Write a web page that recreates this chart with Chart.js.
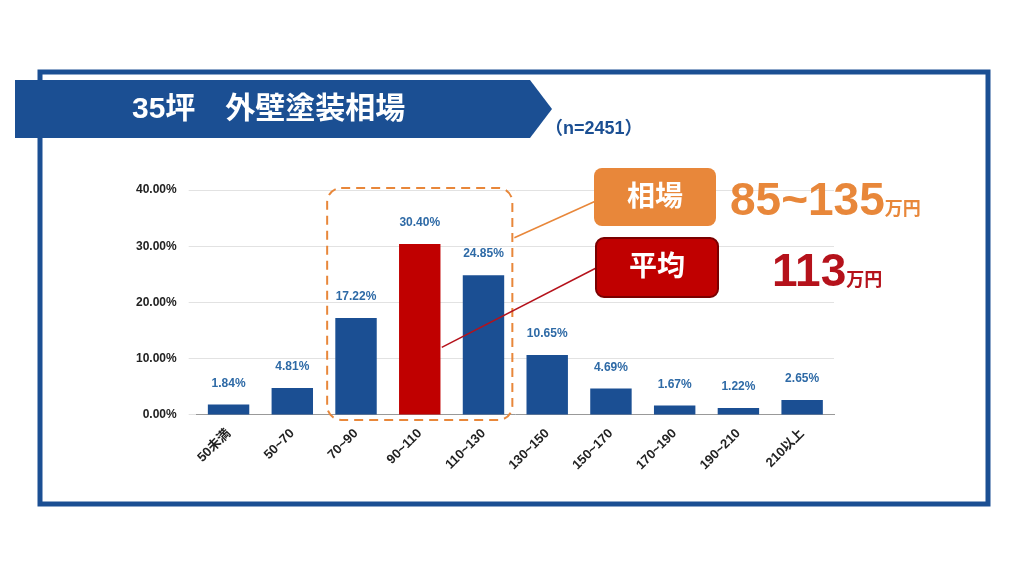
<!DOCTYPE html>
<html><head><meta charset="utf-8">
<script src="https://cdn.jsdelivr.net/npm/chart.js@4/dist/chart.umd.min.js"></script>
<style>html,body{margin:0;padding:0;background:#fff}canvas{display:block}</style>
</head><body>
<canvas id="c" width="1024" height="576"></canvas>
<script>
// データ
const categories = ['50未満','50~70','70~90','90~110','110~130','130~150','150~170','170~190','190~210','210以上'];
const shares = [1.84, 4.81, 17.22, 30.40, 24.85, 10.65, 4.69, 1.67, 1.22, 2.65];
const yTicks = [0, 10, 20, 30, 40];
const title = '35坪　外壁塗装相場';
const sampleNote = '（n=2451）';
const rangeLabel = '相場', rangeValue = '85~135', avgLabel = '平均', avgValue = '113';
const rangeIdx = [2, 4], avgIdx = 3;

const FONT = '"Liberation Sans","Noto Sans CJK JP",sans-serif';
const BLUE = '#1b4f93', RED = '#c00000', ORANGE = '#e8873a', DARKRED = '#b5121b';

// 枠、タイトル、注記を描くプラグイン
const decor = {
  id: 'decor',
  beforeDraw(chart) {
    const c = chart.ctx;
    c.save();
    c.strokeStyle = BLUE; c.lineWidth = 5;
    c.strokeRect(40, 72, 948, 432);
    // タイトル帯
    c.fillStyle = BLUE;
    c.beginPath();
    c.moveTo(15, 80); c.lineTo(530, 80); c.lineTo(552, 109); c.lineTo(530, 138); c.lineTo(15, 138);
    c.closePath(); c.fill();
    c.fillStyle = '#fff'; c.font = 'bold 30px ' + FONT; c.textBaseline = 'middle';
    c.fillText(title, 132, 110);
    c.fillStyle = BLUE; c.font = 'bold 18px ' + FONT;
    c.fillText(sampleNote, 545, 129);
    c.restore();
  },
  afterDraw(chart) {
    const c = chart.ctx, x = chart.scales.x, y = chart.scales.y;
    const half = (x.getPixelForValue(1) - x.getPixelForValue(0)) / 2;
    const bx0 = x.getPixelForValue(rangeIdx[0]) - half + 3, bx1 = x.getPixelForValue(rangeIdx[1]) + half - 3;
    const by0 = y.getPixelForValue(40) - 2, by1 = y.getPixelForValue(0) + 5;
    c.save();
    c.strokeStyle = ORANGE; c.lineWidth = 2; c.setLineDash([9, 6]);
    c.beginPath(); c.roundRect(bx0, by0, bx1 - bx0, by1 - by0, 14); c.stroke();
    c.setLineDash([]); c.lineWidth = 1.5;
    c.beginPath(); c.moveTo(bx1 + 2, y.getPixelForValue(31.5)); c.lineTo(598, 200); c.stroke();
    c.strokeStyle = DARKRED;
    c.beginPath(); c.moveTo(x.getPixelForValue(avgIdx) + 22, y.getPixelForValue(12)); c.lineTo(600, 266); c.stroke();
    // ラベル箱
    c.fillStyle = ORANGE; c.beginPath(); c.roundRect(594, 168, 122, 58, 8); c.fill();
    c.fillStyle = RED; c.strokeStyle = '#7a0000'; c.lineWidth = 2;
    c.beginPath(); c.roundRect(596, 238, 122, 59, 8); c.fill(); c.stroke();
    c.fillStyle = '#fff'; c.font = 'bold 28px ' + FONT; c.textAlign = 'center'; c.textBaseline = 'middle';
    c.fillText(rangeLabel, 655, 198); c.fillText(avgLabel, 657, 268);
    c.textAlign = 'left'; c.textBaseline = 'alphabetic';
    c.fillStyle = ORANGE; c.font = 'bold 46px ' + FONT; c.fillText(rangeValue, 730, 215);
    let w = c.measureText(rangeValue).width;
    c.font = 'bold 18px ' + FONT; c.fillText('万円', 730 + w, 215);
    c.fillStyle = DARKRED; c.font = 'bold 46px ' + FONT; c.fillText(avgValue, 772, 286);
    w = c.measureText(avgValue).width;
    c.font = 'bold 18px ' + FONT; c.fillText('万円', 772 + w, 286);
    // 値ラベル
    c.fillStyle = '#2e6aa6'; c.font = 'bold 12px ' + FONT; c.textAlign = 'center';
    shares.forEach((v, i) => {
      c.fillText(v.toFixed(2) + '%', x.getPixelForValue(i), y.getPixelForValue(v) - 18);
    });
    c.restore();
  }
};

new Chart(document.getElementById('c'), {
  type: 'bar',
  data: {
    labels: categories,
    datasets: [{
      data: shares,
      backgroundColor: shares.map((v, i) => i === avgIdx ? RED : BLUE),
      categoryPercentage: 0.65, barPercentage: 1
    }]
  },
  options: {
    responsive: false, animation: false,
    layout: { padding: { left: 124, top: 190, right: 190, bottom: 100 } },
    plugins: { legend: { display: false }, tooltip: { enabled: false } },
    scales: {
      x: {
        grid: { display: false },
        border: { color: '#999' },
        ticks: { color: '#222', maxRotation: 45, minRotation: 45, font: { family: FONT, size: 13, weight: 'bold' } }
      },
      y: {
        min: 0, max: 40,
        afterBuildTicks: s => { s.ticks = yTicks.map(v => ({ value: v })); },
        grid: { color: '#e2e2e2' },
        border: { display: false },
        ticks: { color: '#222', padding: 12, callback: v => v.toFixed(2) + '%', font: { family: FONT, size: 12, weight: 'bold' } }
      }
    }
  },
  plugins: [decor]
});
</script>
</body></html>
